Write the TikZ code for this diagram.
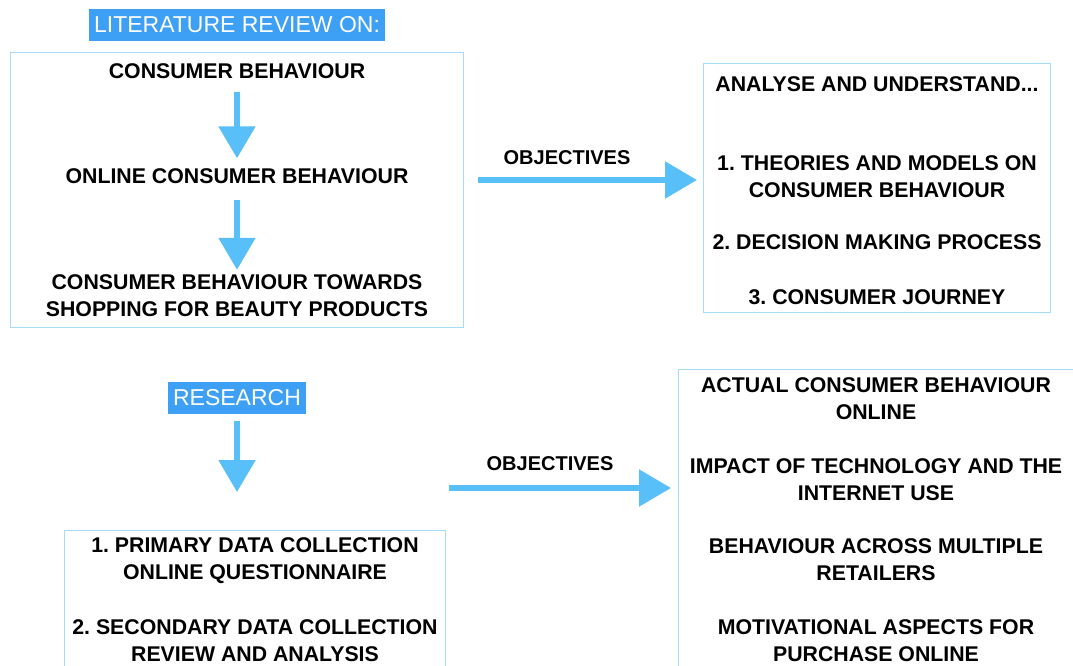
\documentclass[tikz,border=0pt]{standalone}
\usepackage{fontspec}
\setmainfont{Liberation Sans}
\usetikzlibrary{arrows.meta}
\frenchspacing

\definecolor{tagblue}{HTML}{3DA0F4}
\definecolor{frameblue}{HTML}{A6DCF8}
\definecolor{arrowblue}{HTML}{58BFF8}

\begin{document}
\begin{tikzpicture}
        [
          x=1pt, y=-1pt,
          tag/.style={fill=tagblue, text=white, font=\fontsize{23}{27}\selectfont,
            inner xsep=5pt, inner ysep=8pt},
          frame/.style={draw=frameblue, line width=1.2pt, anchor=north west, inner sep=0pt},
          item/.style={font=\bfseries\fontsize{21.3}{27}\selectfont, align=center, inner sep=0pt},
          aim/.style={font=\bfseries\fontsize{20}{24}\selectfont, inner sep=0pt},
          flow/.style={draw=arrowblue, line width=5.5pt,
            -{Triangle[width=36pt, length=32pt]}}
        ]
        \useasboundingbox (0,0) rectangle (1073,666);
        % literature review
        \node [tag] (lit) at (237,25) {LITERATURE REVIEW ON:};
        \node [frame, minimum width=453pt, minimum height=275pt] (litbox) at (10,52) {};
        \node [item] (cb) at (237,71) {CONSUMER BEHAVIOUR};
        \node [item] (ocb) at (237,176) {ONLINE CONSUMER BEHAVIOUR};
        \node [item] (beauty) at (237,296) {CONSUMER BEHAVIOUR TOWARDS\\SHOPPING FOR BEAUTY PRODUCTS};
        \draw [flow, shorten <=13pt, shorten >=10pt] (cb) -- (ocb);
        \draw [flow, shorten <=16pt, shorten >=5pt] (ocb) -- (beauty);
        % objectives of the review
        \node [frame, minimum width=347pt, minimum height=249pt] (aimbox) at (703,63) {};
        \node [item] (analyse) at (877,84) {ANALYSE AND UNDERSTAND...};
        \node [item] (theory) at (877,177) {1. THEORIES AND MODELS ON\\CONSUMER BEHAVIOUR};
        \node [item] (decision) at (877,242) {2. DECISION MAKING PROCESS};
        \node [item] (journey) at (877,297) {3. CONSUMER JOURNEY};
        \node [aim] (obj1) at (567,158) {OBJECTIVES};
        \coordinate (o1from) at (478,180);
        \coordinate (o1to) at (697,180);
        \draw [flow] (o1from) -- (o1to);
        % research
        \node [tag] (res) at (237,398) {RESEARCH};
        \node [frame, minimum width=381pt, minimum height=160pt] (resbox) at (64,530) {};
        \node [item] (primary) at (255,561) {1. PRIMARY DATA COLLECTION\\ONLINE QUESTIONNAIRE};
        \node [item] (secondary) at (255,641) {2. SECONDARY DATA COLLECTION\\REVIEW AND ANALYSIS};
        \draw [flow, shorten <=7pt, shorten >=38pt] (res) -- (res |- resbox.north);
        % objectives of the research
        \node [frame, minimum width=420pt, minimum height=330pt] (findbox) at (678,369) {};
        \node [item] (actual) at (876,399) {ACTUAL CONSUMER BEHAVIOUR\\ONLINE};
        \node [item] (impact) at (876,480) {IMPACT OF TECHNOLOGY AND THE\\INTERNET USE};
        \node [item] (across) at (876,560) {BEHAVIOUR ACROSS MULTIPLE\\RETAILERS};
        \node [item] (motive) at (876,641) {MOTIVATIONAL ASPECTS FOR\\PURCHASE ONLINE};
        \node [aim] (obj2) at (550,464) {OBJECTIVES};
        \coordinate (o2from) at (449,488);
        \coordinate (o2to) at (671,488);
        \draw [flow] (o2from) -- (o2to);
\end{tikzpicture}
\end{document}
